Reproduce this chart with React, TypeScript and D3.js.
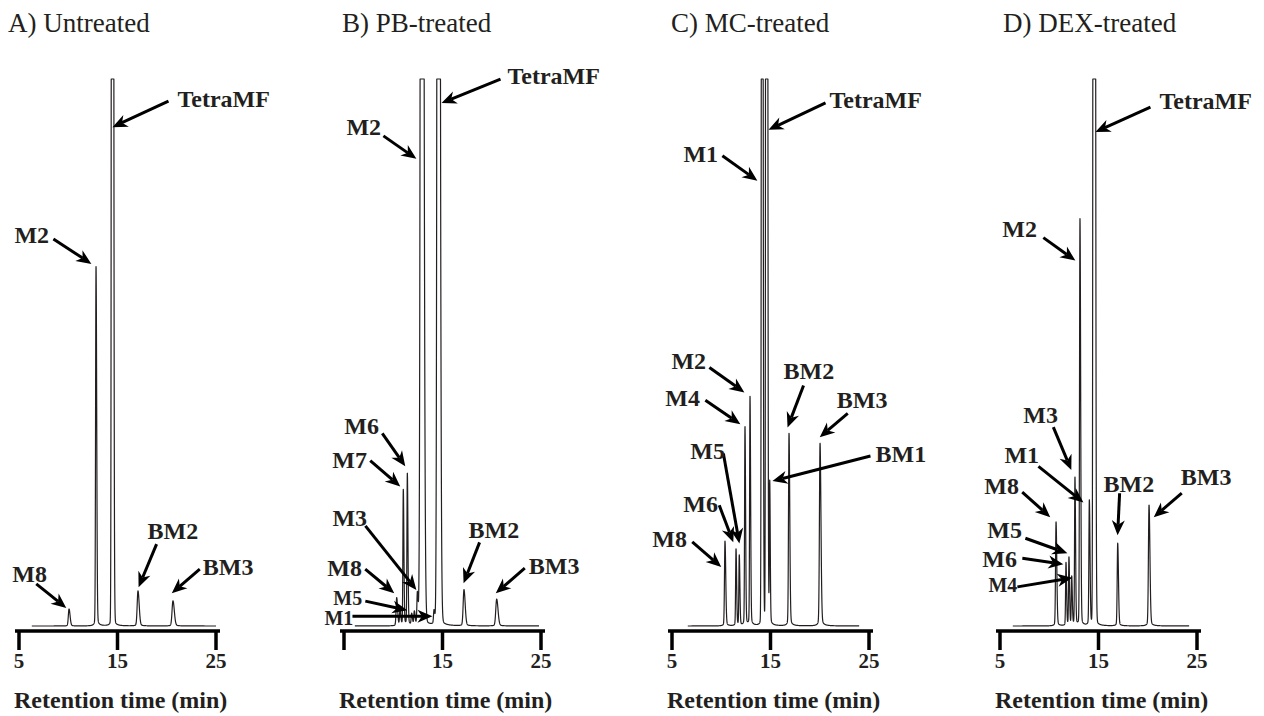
import { useEffect, useRef } from "react";
import * as d3 from "d3";

// [retention time (min), height (% of plot height), width (min)]
type Peak = [number, number, number];
// [label, tip time, tip height, tail dx, tail dy, label dx, label dy, small]
type Note = [string, number, number, number, number, number, number, boolean?];

const titles = ["A) Untreated", "B) PB-treated", "C) MC-treated", "D) DEX-treated"];
const tickValues = [5, 15, 25];
const tickLabels = [
  ["5", "15", "25"],
  ["", "15", "25"],
  ["5", "15", "25"],
  ["5", "15", "25"],
];
const xTitle = "Retention time (min)";
const traceStart = [6.3, 6.1, 6.6, 6.3];
const traceEnd = [25.0, 24.8, 24.0, 24.2];

const peaksA: Peak[] = [
  [10.08, 3.1, 0.07],
  [12.82, 65.7, 0.045],
  [14.47, 700, 0.055],
  [17.08, 6.4, 0.08],
  [20.63, 4.6, 0.09],
];
const peaksB: Peak[] = [
  [10.35, 5.1, 0.06],
  [10.69, 3, 0.05],
  [11.02, 24.8, 0.04],
  [11.43, 27.7, 0.04],
  [11.87, 2, 0.05],
  [12.14, 2.4, 0.05],
  [12.45, 5.7, 0.05],
  [12.89, 400, 0.1],
  [14.14, 2.4, 0.05],
  [14.57, 400, 0.09],
  [17.18, 6.6, 0.08],
  [20.5, 4.9, 0.09],
];
const peaksC: Peak[] = [
  [10.38, 15.5, 0.05],
  [11.5, 14, 0.04],
  [11.83, 12.8, 0.04],
  [12.41, 36.3, 0.04],
  [12.92, 41.8, 0.04],
  [14.14, 350, 0.05],
  [14.59, 700, 0.05],
  [14.92, 26, 0.035],
  [16.88, 35.2, 0.05],
  [20.03, 33.4, 0.06],
];
const peaksD: Peak[] = [
  [10.69, 19, 0.05],
  [11.7, 11.5, 0.04],
  [12.0, 12.4, 0.04],
  [12.28, 8.8, 0.04],
  [12.61, 27, 0.04],
  [13.12, 74.3, 0.045],
  [14.07, 22.8, 0.045],
  [14.54, 700, 0.06],
  [16.95, 15.1, 0.05],
  [20.13, 22.1, 0.06],
];

const notesA: Note[] = [
  ["TetraMF", 14.49, 91.2, 56, -26, 65, -20],
  ["M2", 12.35, 66.2, -38, -25, -77, -21],
  ["M8", 9.8, 3.3, -30, -24, -54, -26],
  ["BM2", 17.14, 7.1, 18, -43, 9, -48],
  ["BM3", 20.51, 6.0, 28, -24, 31, -18],
];
const notesB: Note[] = [
  ["TetraMF", 14.9, 95.6, 59, -24, 66, -19],
  ["M2", 12.35, 85.4, -33, -23, -70, -24],
  ["M6", 11.22, 29.2, -23, -33, -61, -32],
  ["M7", 10.71, 25.5, -30, -26, -68, -19],
  ["M3", 12.35, 6.6, -51, -64, -84, -64],
  ["M8", 10.1, 6.0, -29, -24, -67, -17],
  ["M5", 11.43, 2.9, -42, -9, -74, -5, true],
  ["M1", 13.98, 1.8, -80, 0, -108, 9, true],
  ["BM2", 17.14, 7.8, 16, -41, 5, -45],
  ["BM3", 20.41, 6.0, 29, -25, 33, -19],
];
const notesC: Note[] = [
  ["TetraMF", 14.8, 90.7, 57, -27, 61, -22],
  ["M1", 13.67, 81.4, -35, -25, -74, -19],
  ["M2", 12.35, 42.7, -35, -25, -73, -23],
  ["M4", 11.94, 36.9, -35, -24, -75, -18],
  ["M5", 11.84, 15.1, -16, -90, -49, -84],
  ["M6", 11.22, 15.3, -14, -37, -50, -30],
  ["M8", 10.0, 10.8, -29, -25, -69, -20],
  ["BM2", 16.73, 36.3, 16, -42, -4, -48],
  ["BM3", 20.0, 34.5, 28, -24, 17, -29],
  ["BM1", 15.2, 26.5, 98, -25, 103, -19],
];
const notesD: Note[] = [
  ["TetraMF", 14.69, 90.3, 55, -25, 64, -23],
  ["M2", 12.65, 66.8, -32, -23, -73, -24],
  ["M3", 12.24, 28.5, -18, -43, -48, -47],
  ["M1", 13.47, 22.6, -45, -36, -79, -39],
  ["M8", 10.1, 19.9, -28, -25, -66, -23],
  ["M5", 11.84, 13.3, -42, -15, -80, -15],
  ["M6", 11.43, 11.3, -41, -6, -81, 3],
  ["M4", 12.35, 8.8, -55, 9, -84, 14, true],
  ["BM2", 16.94, 16.6, 2, -42, -14, -43],
  ["BM3", 20.61, 19.9, 28, -24, 27, -32],
];

const peakSets = [peaksA, peaksB, peaksC, peaksD];
const noteSets = [notesA, notesB, notesC, notesD];

// layout
const width = 1264;
const height = 716;
const panelLeft = [19, 344, 672, 1000];
const titleX = [8, 342, 671, 1003];
const spanX = 197;
const baseY = 626;
const topY = 79;
const axisY = 631;
const serif = "'Liberation Serif', 'Times New Roman', serif";
const ink = "#231f20";

// skewed gaussian with a broad, low foot; value at t0 equals h
function peakValue(t: number, [t0, h, s]: Peak) {
  const dt = t - t0;
  const sd = dt < 0 ? s : s * 1.5;
  const z = dt / sd;
  const f = Math.min(h, 40) * 0.05;
  return (h - f) * Math.exp(-0.5 * z * z) + f / (1 + (z / 2.5) * (z / 2.5));
}

export default function App() {
  const svgRef = useRef<SVGSVGElement | null>(null);

  useEffect(() => {
    if (!svgRef.current) return;
    const svg = d3.select(svgRef.current);
    svg.selectAll("*").remove();

    const y = d3.scaleLinear().domain([0, 100]).range([baseY, topY]);

    peakSets.forEach((peaks, i) => {
      const x = d3.scaleLinear().domain([5, 25]).range([panelLeft[i], panelLeft[i] + spanX]);
      const g = svg.append("g");

      g.append("text")
        .attr("x", titleX[i])
        .attr("y", 32)
        .attr("font-family", serif)
        .attr("font-size", 27)
        .attr("fill", ink)
        .text(titles[i]);

      // trace
      const ts = d3.range(traceStart[i], traceEnd[i], 0.004).concat([traceEnd[i]]);
      const vals = ts.map(t => Math.min(100, d3.sum(peaks, p => peakValue(t, p))));
      const line = d3.line<number>()
        .x((_, k) => x(ts[k]))
        .y(d => y(d));
      g.append("path")
        .datum(vals)
        .attr("d", line)
        .attr("fill", "none")
        .attr("stroke", ink)
        .attr("stroke-width", 1.2)
        .attr("stroke-linejoin", "round");

      // axis
      g.append("line")
        .attr("x1", x(5) - 4)
        .attr("x2", x(25) + 4)
        .attr("y1", axisY)
        .attr("y2", axisY)
        .attr("stroke", "#000")
        .attr("stroke-width", 3.5);
      tickValues.forEach((v, k) => {
        g.append("line")
          .attr("x1", x(v))
          .attr("x2", x(v))
          .attr("y1", axisY)
          .attr("y2", axisY + 19)
          .attr("stroke", "#000")
          .attr("stroke-width", 3.5);
        if (tickLabels[i][k]) {
          g.append("text")
            .attr("x", x(v))
            .attr("y", 668)
            .attr("text-anchor", "middle")
            .attr("font-family", serif)
            .attr("font-weight", 700)
            .attr("font-size", 21)
            .attr("fill", ink)
            .text(tickLabels[i][k]);
        }
      });
      g.append("text")
        .attr("x", x(5) - 5)
        .attr("y", 708)
        .attr("font-family", serif)
        .attr("font-weight", 700)
        .attr("font-size", 24)
        .attr("fill", ink)
        .text(xTitle);

      // annotations
      noteSets[i].forEach(([label, tt, tv, tdx, tdy, ldx, ldy, small]) => {
        const px = x(tt);
        const py = y(tv);
        const qx = px + tdx;
        const qy = py + tdy;
        const len = Math.hypot(px - qx, py - qy);
        const ux = (px - qx) / len;
        const uy = (py - qy) / len;
        const L = 15;
        const Wh = 6.5;
        const bx = px - ux * L;
        const by = py - uy * L;
        const nx = px - ux * L * 0.7;
        const ny = py - uy * L * 0.7;
        g.append("line")
          .attr("x1", qx)
          .attr("y1", qy)
          .attr("x2", nx)
          .attr("y2", ny)
          .attr("stroke", "#000")
          .attr("stroke-width", 3);
        const head = d3.path();
        head.moveTo(px, py);
        head.lineTo(bx - uy * Wh, by + ux * Wh);
        head.lineTo(nx, ny);
        head.lineTo(bx + uy * Wh, by - ux * Wh);
        head.closePath();
        g.append("path").attr("d", head.toString()).attr("fill", "#000");
        g.append("text")
          .attr("x", px + ldx)
          .attr("y", py + ldy)
          .attr("font-family", serif)
          .attr("font-weight", 700)
          .attr("font-size", small ? 20 : 24)
          .attr("fill", ink)
          .text(label);
      });
    });
  }, []);

  return (
    <svg
      ref={svgRef}
      width={width}
      height={height}
      style={{ position: "absolute", left: 0, top: 0, background: "#fff" }}
    />
  );
}
